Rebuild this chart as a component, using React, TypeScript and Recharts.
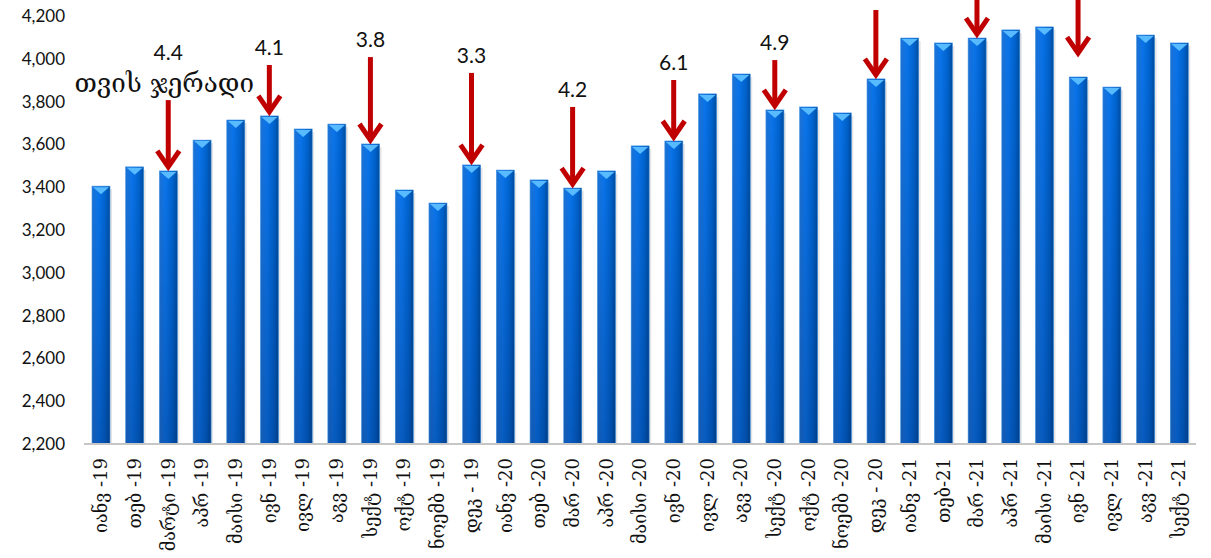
import { BarChart, Bar, XAxis, YAxis, ReferenceLine } from 'recharts'

const months = [
  'იანვ -19', 'თებ -19', 'მარტი -19', 'აპრ -19', 'მაისი -19', 'ივნ -19', 'ივლ -19', 'აგვ -19', 'სექტ -19', 'ოქტ -19', 'ნოემბ -19', 'დეკ - 19',
  'იანვ -20', 'თებ -20', 'მარ -20', 'აპრ -20', 'მაისი -20', 'ივნ -20', 'ივლ -20', 'აგვ -20', 'სექტ -20', 'ოქტ -20', 'ნოემბ -20', 'დეკ - 20',
  'იანვ -21', 'თებ-21', 'მარ -21', 'აპრ -21', 'მაისი -21', 'ივნ -21', 'ივლ -21', 'აგვ -21', 'სექტ -21',
]
const values = [
  3405, 3495, 3476, 3620, 3714, 3733, 3672, 3695, 3602, 3387, 3326, 3504,
  3480, 3434, 3396, 3476, 3593, 3616, 3836, 3929, 3761, 3775, 3747, 3906,
  4097, 4074, 4097, 4135, 4149, 3915, 3868, 4111, 4074,
]
const yTicks = [2200, 2400, 2600, 2800, 3000, 3200, 3400, 3600, 3800, 4000, 4200]

// arrows: month index, top of shaft, tip value, label
const arrowIdx = [2, 5, 8, 11, 14, 17, 20, 23, 26, 29]
const arrowFrom = [3807, 3971, 4008, 3934, 3775, 3901, 3994, 4228, 4275, 4275]
const arrowTo = [3476, 3733, 3602, 3504, 3396, 3616, 3761, 3906, 4097, 4008]
const arrowText = ['4.4', '4.1', '3.8', '3.3', '4.2', '6.1', '4.9', '', '', '']
const arrowNote = 'თვის ჯერადი'

const data = months.map((m, i) => ({ m, v: values[i] }))
const RED = '#C00000'

const BarShape = (p: any) => {
  const { x, y, width, height } = p
  return (
    <g>
      <rect x={x + 2} y={y + 3} width={width} height={height - 3} fill="rgba(0,0,0,0.10)" />
      <rect x={x} y={y} width={width} height={height} fill="url(#barH)" />
      <rect x={x} y={y} width={width} height={height} fill="url(#barV)" />
      <rect x={x} y={y} width={width} height={height} fill="none" stroke="#3d8fe0" strokeWidth={0.6} />
      <polygon points={`${x + 1},${y + 1} ${x + width - 1},${y + 1} ${x + width / 2},${y + 8}`} fill="#58bbff" />
    </g>
  )
}

const XTick = ({ x, y, payload }: any) => (
  <text x={x} y={y + 14} transform={`rotate(-90 ${x} ${y + 14})`} textAnchor="end" dy="0.35em"
    fontSize={18} fontFamily="'DejaVu Serif', serif" fill="#111">{payload.value}</text>
)

const arrowShape = (text: string, note: string) => (p: any) => {
  const { x1, y1, y2 } = p
  const x = x1
  return (
    <g>
      <line x1={x} y1={y1} x2={x} y2={y2 - 6} stroke={RED} strokeWidth={5} />
      <path d={`M${x - 11},${y2 - 20} L${x},${y2 - 4} L${x + 11},${y2 - 20}`} fill="none" stroke={RED} strokeWidth={5} strokeLinejoin="miter" />
      {note && <text x={x - 4} y={y1 - 17} textAnchor="middle" dy="0.35em" fontSize={26} fontFamily="'DejaVu Serif', serif" fill="#111">{note}</text>}
      {text && <text x={x} y={y1 - (note ? 47 : 17)} textAnchor="middle" dy="0.35em" fontSize={21} fontFamily="Lato, sans-serif" fill="#111">{text}</text>}
    </g>
  )
}

export default function App() {
  return (
    <div style={{ position: 'absolute', left: 0, top: 0, background: '#fff' }}>
      <BarChart width={1211} height={558} data={data} margin={{ top: 16, right: 15, left: 0, bottom: 0 }} barSize={18}>
        <defs>
          <linearGradient id="barH" x1="0" y1="0" x2="1" y2="0">
            <stop offset="0" stopColor="#1d72d4" />
            <stop offset="0.35" stopColor="#0a74ea" />
            <stop offset="0.75" stopColor="#0062cc" />
            <stop offset="1" stopColor="#004c9e" />
          </linearGradient>
          <linearGradient id="barV" x1="0" y1="0" x2="0" y2="1">
            <stop offset="0" stopColor="#000830" stopOpacity={0} />
            <stop offset="1" stopColor="#000830" stopOpacity={0.22} />
          </linearGradient>
        </defs>
        <XAxis dataKey="m" interval={0} height={114} tickLine={false} tickSize={0} tickMargin={0}
          axisLine={{ stroke: '#c6c6c6', strokeWidth: 2 }} tick={<XTick />} />
        <YAxis domain={[2200, 4200]} ticks={yTicks} width={84} axisLine={false} tickLine={false} tickSize={0} tickMargin={19}
          tickFormatter={(v: number) => v.toLocaleString('en-US')}
          tick={{ fontSize: 17, fill: '#111', fontFamily: 'Lato, sans-serif' }} />
        <Bar dataKey="v" shape={BarShape} isAnimationActive={false} />
        {arrowIdx.map((ix, k) => (
          <ReferenceLine key={k} ifOverflow="visible"
            segment={[{ x: months[ix], y: arrowFrom[k] }, { x: months[ix], y: arrowTo[k] }]}
            shape={arrowShape(arrowText[k], k === 0 ? arrowNote : '')} />
        ))}
      </BarChart>
    </div>
  )
}
